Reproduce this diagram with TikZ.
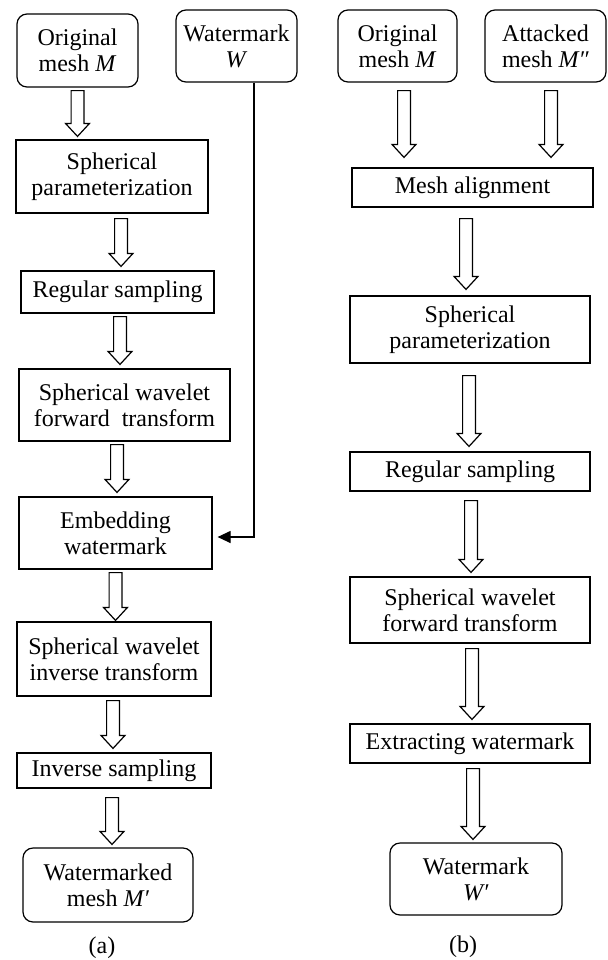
\documentclass[tikz,border=0pt]{standalone}
\usepackage{fontspec}
\setmainfont{Liberation Serif}
\usetikzlibrary{arrows.meta,calc}
\tikzset{
  >={Triangle[length=6.5pt,width=6pt]},
  proc/.style={draw,line width=0.6pt,inner sep=0pt,align=center,
    font=\fontsize{12}{13}\selectfont},
  term/.style={proc,rounded corners=5pt},
  tag/.style={font=\fontsize{12}{13}\selectfont},
  % hollow block arrow, drawn straight down from the start point
  hollow/.style={draw,line width=0.6pt,fill=white,
    to path={let \p1=(\tikztostart),\p2=(\tikztotarget) in
      (\x1-3.2pt,\y1) -- (\x1-3.2pt,\y2+6.5pt) -- (\x1-6pt,\y2+6.5pt) -- (\x1,\y2)
      -- (\x1+6pt,\y2+6.5pt) -- (\x1+3.2pt,\y2+6.5pt) -- (\x1+3.2pt,\y1) -- cycle}},
}

\begin{document}
\begin{tikzpicture}[x=0.5pt,y=-0.5pt]
  \fill[white] (0,0) rectangle (607,960);
  \useasboundingbox (0,0) rectangle (607,960);
  % (a) embedding
  \node[term,minimum width=60.5pt,minimum height=36.5pt] (orig) at (77.5,50.5) {Original\\mesh \textit{M}};
  \node[term,minimum width=60.5pt,minimum height=36pt] (wmark) at (236.5,46) {Watermark\\\textit{W}};
  \node[proc,minimum width=96pt,minimum height=36.5pt] (sphpar) at (112,176.5) {Spherical\\parameterization};
  \node[proc,minimum width=96.5pt,minimum height=21pt] (regsam) at (117.5,292) {Regular sampling};
  \node[proc,minimum width=105.5pt,minimum height=36pt] (fwd) at (124.5,405) {Spherical wavelet\\forward\ \ transform};
  \node[proc,minimum width=96.5pt,minimum height=36pt] (embed) at (115.5,533) {Embedding\\watermark};
  \node[proc,minimum width=97pt,minimum height=37pt] (invwav) at (114,659) {Spherical wavelet\\inverse transform};
  \node[proc,minimum width=97pt,minimum height=17.5pt] (invsam) at (114,770.5) {Inverse sampling};
  \node[term,minimum width=85pt,minimum height=37pt] (marked) at (108,885) {Watermarked\\mesh \textit{M′}};
  \node[tag] (capa) at (102,948) {(a)};
  % (b) extraction
  \node[term,minimum width=59.5pt,minimum height=36pt] (origb) at (397.5,46) {Original\\mesh \textit{M}};
  \node[term,minimum width=60.5pt,minimum height=36pt] (attacked) at (545.5,46) {Attacked\\mesh \textit{M″}};
  \node[proc,minimum width=120.5pt,minimum height=19.5pt] (align) at (472.5,187.5) {Mesh alignment};
  \node[proc,minimum width=120pt,minimum height=33.5pt] (sphparb) at (470,329.5) {Spherical\\parameterization};
  \node[proc,minimum width=120pt,minimum height=19.5pt] (regsamb) at (470,471.5) {Regular sampling};
  \node[proc,minimum width=120pt,minimum height=33pt] (fwdb) at (470,610) {Spherical wavelet\\forward transform};
  \node[proc,minimum width=120pt,minimum height=19.5pt] (extract) at (470,743.5) {Extracting watermark};
  \node[term,minimum width=86pt,minimum height=36pt] (wmarkb) at (476,879) {Watermark\\\textit{W′}};
  \node[tag] (capb) at (463,947) {(b)};
  % block arrows: from/to/xshift/gap below/gap above
  \foreach \a/\b/\dx/\ga/\gb in {orig/sphpar/0/1.5/1.5, sphpar/regsam/4.5/2.5/2,
      regsam/fwd/1.25/1.5/2, fwd/embed/-3.75/1.5/2, embed/invwav/0/1.5/0.5,
      invwav/invsam/-0.5/2/2, invsam/marked/-1/4.5/1.5,
      origb/align/3.25/4/5, attacked/align/2.75/4/5, align/sphparb/-3.25/5.5/3,
      sphparb/regsamb/-0.5/6/2.5, regsamb/fwdb/0.5/4.5/2, fwdb/extract/1/2.5/2,
      extract/wmarkb/1.5/2.5/1.5}
    \draw[hollow] ([xshift=\dx pt,yshift=-\ga pt]\a.south) to ([yshift=\gb pt]\b.north);
  \draw[->,line width=0.6pt] ([xshift=8.75pt]wmark.south) |- ([xshift=2.5pt,yshift=-2pt]embed.east);
\end{tikzpicture}
\end{document}
